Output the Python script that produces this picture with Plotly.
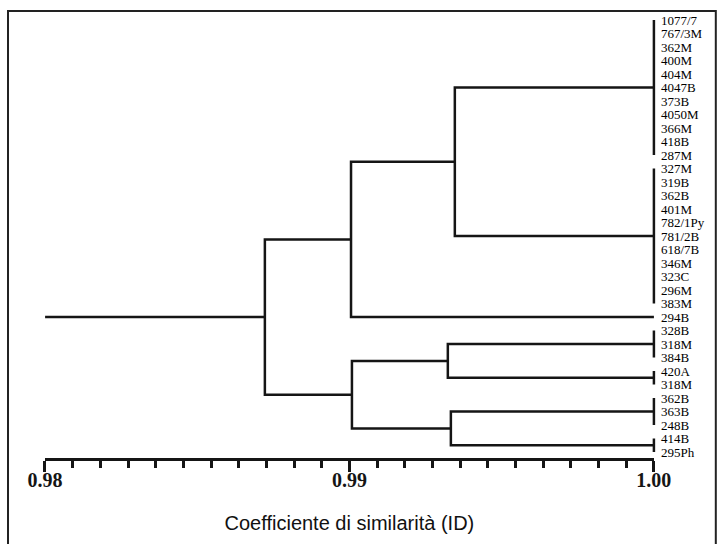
import plotly.graph_objects as go

# ---------------- data ----------------
leaf_labels = ["1077/7", "767/3M", "362M", "400M", "404M", "4047B", "373B", "4050M",
               "366M", "418B", "287M", "327M", "319B", "362B", "401M", "782/1Py",
               "781/2B", "618/7B", "346M", "323C", "296M", "383M", "294B", "328B",
               "318M", "384B", "420A", "318M", "362B", "363B", "248B", "414B", "295Ph"]

# groups of identical strains (similarity 1.00): first and last leaf index
group_first = [0, 11, 22, 23, 26, 28, 31]
group_last = [10, 21, 22, 25, 27, 30, 32]
group_level = 1.00

# merges (node ids: 0-6 groups, 7.. new nodes)
merge_a = [0, 7, 3, 5, 9, 8]
merge_b = [1, 2, 4, 6, 10, 11]
merge_level = [0.99346, 0.99005, 0.99323, 0.99333, 0.99008, 0.98722]
axis_start = 0.98

tick_vals = [0.98, 0.99, 1.00]
tick_text = ["0.98", "0.99", "1.00"]
x_title = "Coefficiente di similarità (ID)"

# ---------------- build segments ----------------
xs, ys = [], []
node_y, node_x = [], []
for f, l in zip(group_first, group_last):
    node_y.append((f + l) / 2)
    node_x.append(group_level)
    if l > f:
        xs += [group_level, group_level, None]
        ys += [f, l, None]
for a, b, h in zip(merge_a, merge_b, merge_level):
    ya, yb = node_y[a], node_y[b]
    xs += [node_x[a], h, h, node_x[b], None]
    ys += [ya, ya, yb, yb, None]
    node_y.append((ya + yb) / 2)
    node_x.append(h)
# root stem
xs += [axis_start, node_x[-1], None]
ys += [node_y[-1], node_y[-1], None]

ink = "#151515"
fig = go.Figure()
fig.add_trace(go.Scatter(x=xs, y=ys, mode="lines", line=dict(color=ink, width=2.5),
                         hoverinfo="skip", showlegend=False))
fig.add_trace(go.Scatter(x=[0.98, 1.0], y=[0.5, 0.5], mode="lines", xaxis="x2", yaxis="y2",
                         line=dict(width=0), opacity=0, hoverinfo="skip", showlegend=False))

# ---------------- layout ----------------
W, H = 717, 544
K = 30450.0                    # px per unit
left_px = 39
x_lo, x_hi = 0.9798, 1.0002
plot_w = (x_hi - x_lo) * K
top_px, bot_px = 10, 458
row0, row_step = 20.0, 13.5
n = len(leaf_labels)
y_top = (top_px - row0) / row_step
y_bot = (bot_px - row0) / row_step

d0 = (45 - left_px) / plot_w
d1 = (654 - left_px) / plot_w

fig.update_layout(
    width=W, height=H,
    margin=dict(l=left_px, r=W - left_px - plot_w, t=top_px, b=H - bot_px),
    paper_bgcolor="white", plot_bgcolor="rgba(0,0,0,0)",
    xaxis=dict(range=[x_lo, x_hi], visible=False, domain=[0, 1]),
    yaxis=dict(range=[y_bot, y_top], side="right", showgrid=False, zeroline=False,
               showline=False, ticks="", tickmode="array",
               tickvals=list(range(n)), ticktext=leaf_labels,
               tickfont=dict(family="Liberation Serif", size=13, color="#000")),
    xaxis2=dict(domain=[d0, d1], range=[0.98, 1.0], anchor="y2", side="bottom",
                showgrid=False, zeroline=False, showline=True, linecolor=ink, linewidth=2.5,
                ticks="outside", tickmode="array", tickvals=tick_vals,
                ticktext=["<b>" + t + "</b>" for t in tick_text],
                ticklen=11, tickwidth=2.5, tickcolor=ink, ticklabelstandoff=-9,
                tickfont=dict(family="Liberation Serif", size=20, color=ink, weight="bold"),
                minor=dict(ticks="outside", tick0=0.98, dtick=0.01 / 11, ticklen=7,
                           tickwidth=2.5, tickcolor=ink, showgrid=False),
                title=dict(text=x_title, standoff=27,
                           font=dict(family="Liberation Sans", size=20, color="#111"))),
    yaxis2=dict(domain=[0, 1], range=[0, 1], anchor="x2", visible=False),
    shapes=[dict(type="rect", xref="paper", yref="paper",
                 x0=(8 - left_px) / plot_w, x1=(716 - left_px) / plot_w,
                 y0=(bot_px - (H + 10)) / (bot_px - top_px),
                 y1=(bot_px - 11) / (bot_px - top_px),
                 line=dict(color="#222", width=2), layer="below")],
)

fig.write_html("out.html")
